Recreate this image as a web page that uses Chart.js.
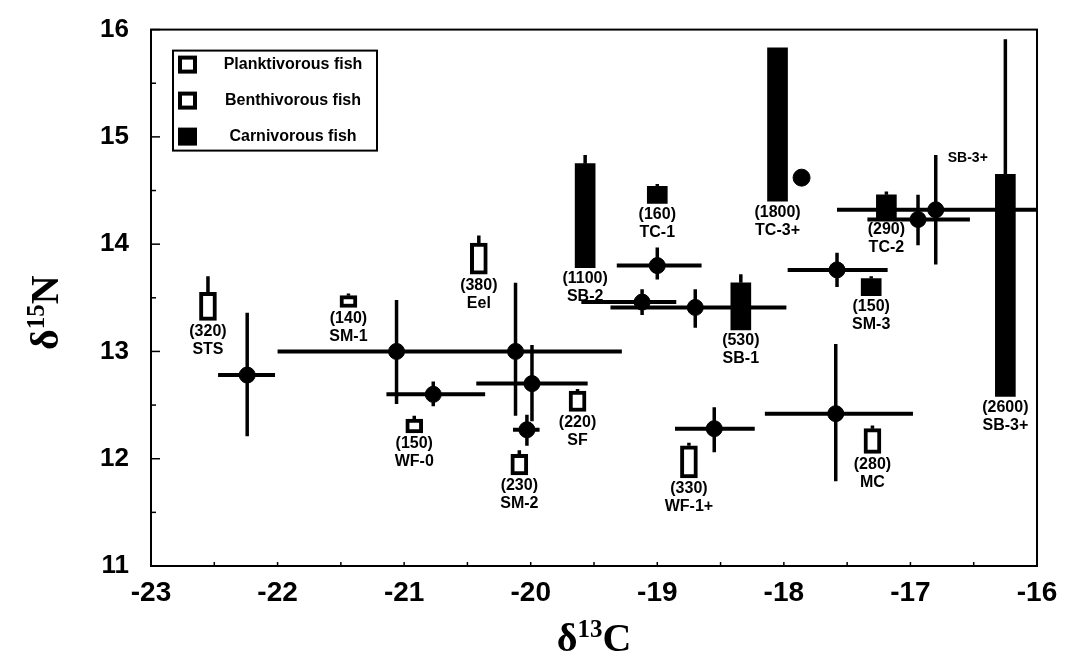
<!DOCTYPE html>
<html>

<head>
    <title>d13C vs d15N of fish groups</title>
    <script src="https://cdn.jsdelivr.net/npm/chart.js"></script>
    <style>
        body {
            margin: 0;
            background: #fff;
        }

        .chart-wrap {
            width: 1066px;
            height: 662px;
        }
    </style>
</head>

<body>
    <div class="chart-wrap"><canvas id="isoChart"></canvas></div>

    <script>
        // group means (crosses) with their ranges
        const crossX = [-22.24, -21.06, -20.77, -20.12, -19.99, -20.03, -19.00, -19.12, -18.70, -18.55, -17.58, -17.59, -16.80, -16.94];
        const crossY = [12.78, 13.00, 12.60, 13.00, 12.70, 12.27, 13.80, 13.46, 13.41, 12.28, 13.76, 12.42, 14.32, 14.23];
        const crossXLo = [-22.47, -22.00, -21.14, -21.00, -20.43, -20.14, -19.32, -19.60, -19.37, -18.86, -17.97, -18.15, -17.58, -17.34];
        const crossXHi = [-22.02, -20.15, -20.36, -19.28, -19.55, -19.93, -18.65, -18.85, -17.98, -18.23, -17.18, -16.98, -16.00, -16.53];
        const crossYLo = [12.21, 12.51, 12.49, 12.40, 12.35, 12.12, 13.67, 13.34, 13.22, 12.06, 13.60, 11.79, 13.81, 13.99];
        const crossYHi = [13.36, 13.48, 12.72, 13.64, 13.06, 12.41, 13.97, 13.58, 13.58, 12.48, 13.92, 13.07, 14.83, 14.46];
        const crossNames = ['', '', '', '', '', '', '', '', '', '', '', '', 'SB-3+', ''];

        // size classes (boxes): name, body length in brackets, feeding group
        const boxNames = ['STS', 'SM-1', 'WF-0', 'Eel', 'SB-2', 'TC-1', 'SF', 'SM-2', 'WF-1+', 'SB-1', 'SM-3', 'MC', 'TC-3+', 'TC-2', 'SB-3+'];
        const boxSize = [320, 140, 150, 380, 1100, 160, 220, 230, 330, 530, 150, 280, 1800, 290, 2600];
        const boxGroup = ['P', 'P', 'B', 'B', 'C', 'C', 'P', 'P', 'B', 'C', 'C', 'B', 'C', 'C', 'C'];
        const boxX = [-22.55, -21.44, -20.92, -20.41, -19.57, -19.00, -19.63, -20.09, -18.75, -18.34, -17.31, -17.30, -18.05, -17.19, -16.25];
        const boxLo = [13.29, 13.41, 12.24, 13.72, 13.78, 14.38, 12.44, 11.85, 11.82, 13.20, 13.52, 12.05, 14.40, 14.24, 12.58];
        const boxHi = [13.55, 13.52, 12.37, 14.01, 14.75, 14.54, 12.63, 12.04, 12.12, 13.64, 13.68, 12.28, 15.83, 14.46, 14.65];
        const boxTop = [13.70, 13.54, 12.40, 14.08, 14.83, 14.56, 12.65, 12.08, 12.15, 13.72, 13.70, 12.31, 15.83, 14.49, 15.91];

        // single point
        const dotX = [-17.86];
        const dotY = [14.62];

        const groupNames = { P: 'Planktivorous fish', B: 'Benthivorous fish', C: 'Carnivorous fish' };
        const groupOrder = ['P', 'B', 'C'];

        const xTicks = [-23, -22, -21, -20, -19, -18, -17, -16];
        const yTicks = [11, 12, 13, 14, 15, 16];

        // segments joined with null gaps
        function segments(pairs) {
            const out = [];
            pairs.forEach(p => {
                out.push(p[0], p[1], { x: p[1].x, y: null });
            });
            return out;
        }

        const hBars = segments(crossX.map((x, i) => [{ x: crossXLo[i], y: crossY[i] }, { x: crossXHi[i], y: crossY[i] }]));
        const vBars = segments(crossX.map((x, i) => [{ x: x, y: crossYLo[i] }, { x: x, y: crossYHi[i] }]));
        const whiskers = segments(boxX.map((x, i) => [{ x: x, y: boxHi[i] }, { x: x, y: boxTop[i] }]));

        const lineProps = {
            type: 'line',
            borderColor: '#000',
            borderWidth: 4,
            pointRadius: 0,
            spanGaps: false,
            borderCapStyle: 'butt',
            order: 5,
        };

        const boxData = (open) => boxX
            .map((x, i) => ({ x: x, y: [boxLo[i], boxHi[i]], g: boxGroup[i] }))
            .filter(d => (d.g !== 'C') === open);

        const datasets = [
            { ...lineProps, label: 'h', data: hBars },
            { ...lineProps, label: 'v', data: vBars, borderWidth: 3.5 },
            { ...lineProps, label: 'w', data: whiskers, borderWidth: 3.5 },
            {
                type: 'bar', label: 'open', data: boxData(true), grouped: false,
                barThickness: 17, backgroundColor: '#fff', borderColor: '#000', borderWidth: 4,
                borderSkipped: false, order: 3,
            },
            {
                type: 'bar', label: 'filled', data: boxData(false), grouped: false,
                barThickness: 20, backgroundColor: '#000', borderColor: '#000', borderWidth: 0,
                borderSkipped: false, order: 3,
            },
            {
                type: 'scatter', label: 'means', data: crossX.map((x, i) => ({ x: x, y: crossY[i] })),
                pointRadius: 8, backgroundColor: '#000', borderColor: '#000', order: 1,
            },
            {
                type: 'scatter', label: 'dot', data: dotX.map((x, i) => ({ x: x, y: dotY[i] })),
                pointRadius: 8.5, backgroundColor: '#000', borderColor: '#000', order: 1,
            },
        ];

        // frame + inward tick marks
        const framePlugin = {
            id: 'frame',
            afterDatasetsDraw(chart) {
                const { ctx, chartArea: a, scales: { x, y } } = chart;
                ctx.save();
                ctx.strokeStyle = '#000';
                ctx.lineWidth = 2;
                ctx.strokeRect(a.left, a.top, a.right - a.left, a.bottom - a.top);
                ctx.lineWidth = 1.5;
                for (let v = y.min; v <= y.max; v += 0.5) {
                    const py = y.getPixelForValue(v);
                    const len = Number.isInteger(v) ? 9 : 5;
                    ctx.beginPath(); ctx.moveTo(a.left, py); ctx.lineTo(a.left + len, py); ctx.stroke();
                }
                for (let v = x.min; v <= x.max; v += 0.5) {
                    const px = x.getPixelForValue(v);
                    ctx.beginPath(); ctx.moveTo(px, a.bottom); ctx.lineTo(px, a.bottom - 4); ctx.stroke();
                }
                ctx.restore();
            }
        };

        // n + name labels under boxes, legend, axis titles
        const textPlugin = {
            id: 'texts',
            afterDraw(chart) {
                const { ctx, chartArea: a, scales: { x, y } } = chart;
                ctx.save();
                ctx.fillStyle = '#000';
                ctx.textAlign = 'center';
                ctx.textBaseline = 'middle';
                ctx.font = 'bold 16px "Liberation Sans", Arial, sans-serif';
                boxNames.forEach((name, i) => {
                    const px = x.getPixelForValue(boxX[i]);
                    const py = y.getPixelForValue(boxLo[i]);
                    ctx.fillText('(' + boxSize[i] + ')', px, py + 11);
                    ctx.fillText(name, px, py + 29);
                });
                ctx.font = 'bold 14px "Liberation Sans", Arial, sans-serif';
                ctx.textAlign = 'left';
                crossNames.forEach((name, i) => {
                    if (!name) return;
                    ctx.fillText(name, x.getPixelForValue(crossX[i]) + 12, y.getPixelForValue(crossYHi[i]) + 3);
                });

                // legend
                const lx = a.left + 22, ly = a.top + 21, lw = 204, lh = 100;
                ctx.lineWidth = 2;
                ctx.strokeRect(lx, ly, lw, lh);
                ctx.font = 'bold 16px "Liberation Sans", Arial, sans-serif';
                ctx.textAlign = 'center';
                groupOrder.forEach((g, i) => {
                    const cy = ly + 14 + i * 36;
                    if (g === 'C') {
                        ctx.fillRect(lx + 5, cy - 9, 19, 18);
                    } else {
                        ctx.lineWidth = 4;
                        ctx.strokeRect(lx + 7, cy - 7, 15, 14);
                    }
                    ctx.fillText(groupNames[g], lx + 120, cy);
                });

                // axis titles with superscripts
                const iso = (cx, cy, sup, letter) => {
                    const big = 'bold 40px "Liberation Serif", "Times New Roman", serif';
                    const small = 'bold 25px "Liberation Serif", "Times New Roman", serif';
                    ctx.font = big;
                    const wd = ctx.measureText('\u03b4').width;
                    const wl = ctx.measureText(letter).width;
                    ctx.font = small;
                    const ws = ctx.measureText(sup).width;
                    let sx = cx - (wd + ws + wl) / 2;
                    ctx.textAlign = 'left';
                    ctx.textBaseline = 'alphabetic';
                    ctx.font = big;
                    ctx.fillText('\u03b4', sx, cy + 13);
                    ctx.font = small;
                    ctx.fillText(sup, sx + wd, cy - 1);
                    ctx.font = big;
                    ctx.fillText(letter, sx + wd + ws, cy + 13);
                };
                iso((a.left + a.right) / 2, 638, '13', 'C');
                ctx.translate(45, (a.top + a.bottom) / 2 + 15);
                ctx.rotate(-Math.PI / 2);
                iso(0, 0, '15', 'N');
                ctx.restore();
            }
        };

        new Chart(document.getElementById('isoChart'), {
            type: 'scatter',
            data: { datasets: datasets },
            plugins: [framePlugin, textPlugin],
            options: {
                responsive: true,
                maintainAspectRatio: false,
                animation: false,
                events: [],
                layout: { padding: { left: 0, right: 29, top: 25, bottom: 0 } },
                scales: {
                    x: {
                        type: 'linear',
                        min: xTicks[0],
                        max: xTicks[xTicks.length - 1],
                        offset: false,
                        afterBuildTicks: (s) => { s.ticks = xTicks.map(v => ({ value: v })); },
                        afterFit: (s) => { s.height = 96; },
                        grid: { display: false },
                        border: { display: false },
                        ticks: {
                            color: '#000',
                            padding: 2,
                            maxRotation: 0,
                            font: { family: '"Liberation Sans Narrow", "Liberation Sans", Arial', size: 28, weight: 'bold' },
                        },
                    },
                    y: {
                        type: 'linear',
                        min: yTicks[0],
                        max: yTicks[yTicks.length - 1],
                        afterBuildTicks: (s) => { s.ticks = yTicks.map(v => ({ value: v })); },
                        afterFit: (s) => { s.width = 151; },
                        grid: { display: false },
                        border: { display: false },
                        ticks: {
                            color: '#000',
                            padding: 14,
                            font: { family: '"Liberation Sans", Arial', size: 26, weight: 'bold' },
                        },
                    },
                },
                plugins: {
                    legend: { display: false },
                    tooltip: { enabled: false },
                },
            },
        });
    </script>
</body>

</html>
